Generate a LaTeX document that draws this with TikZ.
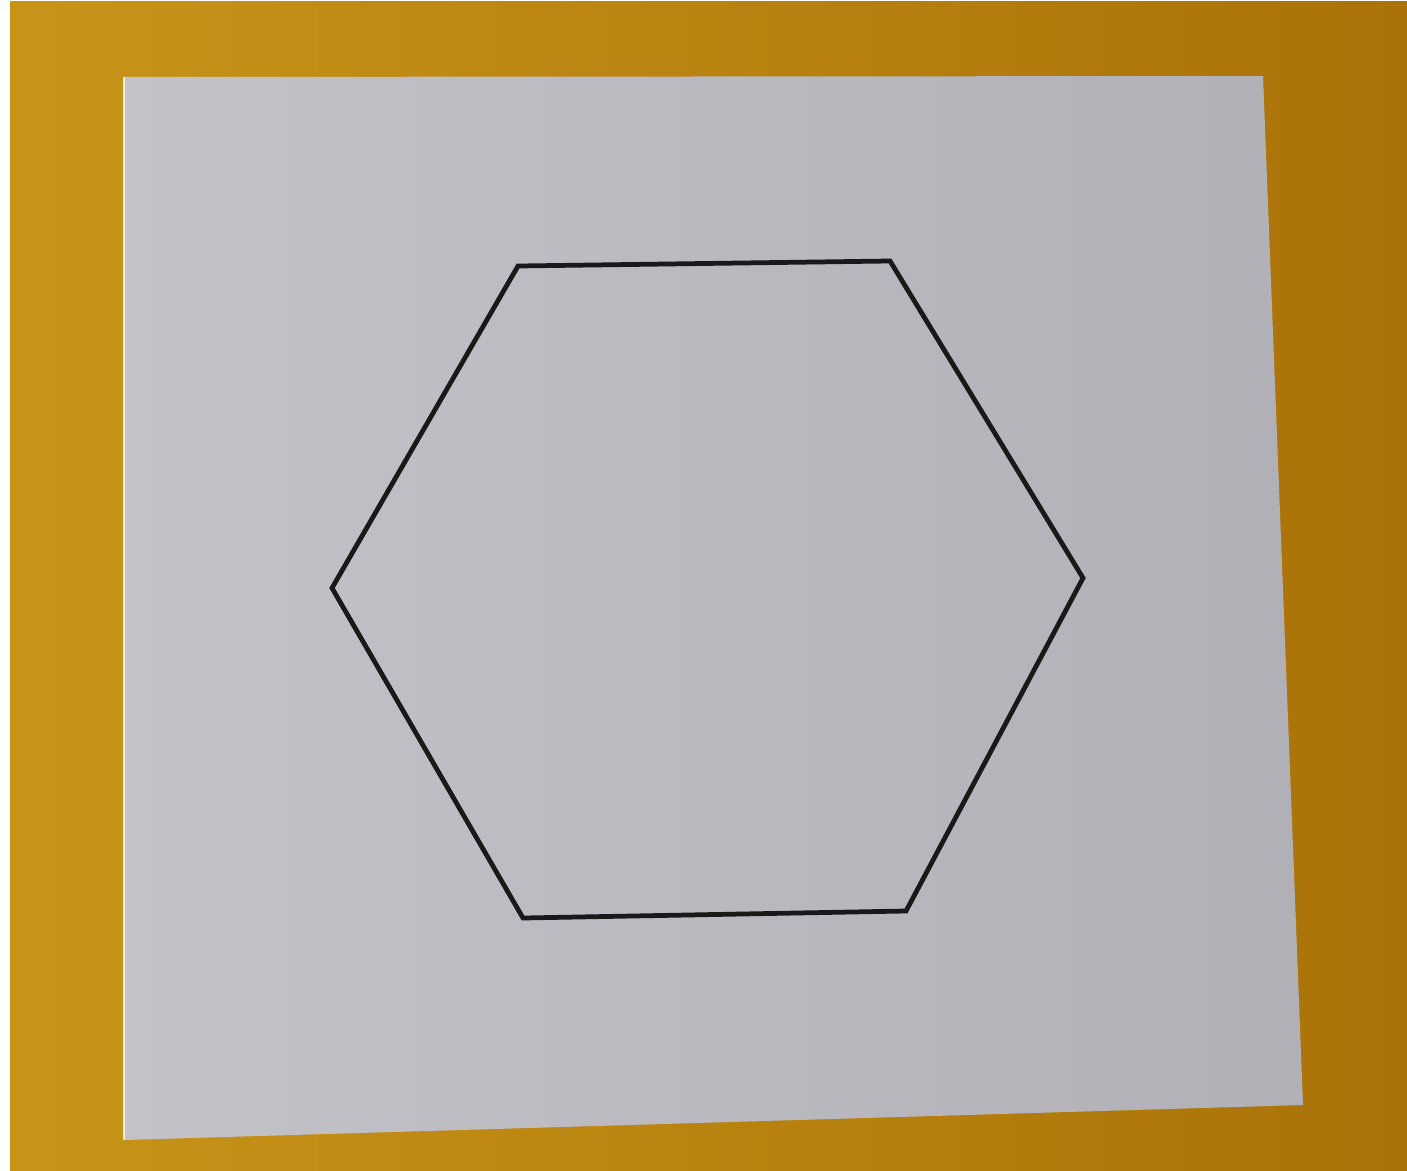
\documentclass[tikz,border=0pt]{standalone}
\begin{document}
\begin{tikzpicture}[x=0.01cm,y=-0.01cm]
\definecolor{yelL}{RGB}{200,148,24}
\definecolor{yelR}{RGB}{170,114,8}
\definecolor{papL}{RGB}{194,194,200}
\definecolor{papR}{RGB}{176,176,182}
\tikzset{hexline/.style={draw=black!90,line width=1.35pt,line join=miter}}
\useasboundingbox (0,0) rectangle (1407,1170);
\fill[white] (0,0) rectangle (1407,1170);
\shade[left color=yelL,right color=yelR] (10,2) rectangle (1407,1170);
% paper
\coordinate (ptl) at (124,77);
\coordinate (ptr) at (1263,76);
\coordinate (pbr) at (1303,1105);
\coordinate (pbl) at (124,1140);
\shade[left color=papL,right color=papR] (ptl) -- (ptr) -- (pbr) -- (pbl) -- cycle;
\draw[white!85!yelL,line width=0.8pt] (ptl) -- (pbl);
% hexagon
\coordinate (h1) at (518,266);
\coordinate (h2) at (890,261);
\coordinate (h3) at (1083,578);
\coordinate (h4) at (906,911);
\coordinate (h5) at (523,918);
\coordinate (h6) at (332,588);
\draw[hexline] (h1) -- (h2) -- (h3) -- (h4) -- (h5) -- (h6) -- cycle;
\end{tikzpicture}
\end{document}
